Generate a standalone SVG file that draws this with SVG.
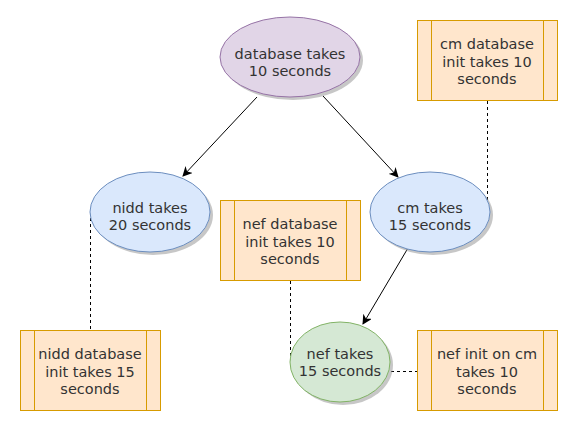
<svg xmlns="http://www.w3.org/2000/svg" width="578" height="431" viewBox="0 0 578 431">
<defs>
<marker id="arr" viewBox="0 0 10 10" refX="9" refY="5" markerWidth="10" markerHeight="10" markerUnits="userSpaceOnUse" orient="auto">
<path d="M0,0 L10,5 L0,10 L3,5 Z" fill="#000"/>
</marker>
</defs>
<style>
text{font-family:"DejaVu Sans",Verdana,sans-serif;font-size:14.5px;fill:#333;text-anchor:middle}
.shadow{fill:#999;opacity:0.55}
.purple{fill:#e1d5e7;stroke:#9673a6;stroke-width:1}
.blue{fill:#dae8fc;stroke:#6c8ebf;stroke-width:1}
.green{fill:#d5e8d4;stroke:#82b366;stroke-width:1}
.proc{fill:#ffe6cc;stroke:#d79b00;stroke-width:1}
.edge{fill:none;stroke:#000;stroke-width:1}
.dash{fill:none;stroke:#000;stroke-width:1;stroke-dasharray:3 3}
</style>
<rect width="578" height="431" fill="#fff"/>
<g id="connectors">
<line class="edge" x1="257" y1="97" x2="183" y2="176" marker-end="url(#arr)"/>
<line class="edge" x1="323" y1="96" x2="398" y2="177" marker-end="url(#arr)"/>
<line class="edge" x1="408" y1="248" x2="363" y2="324" marker-end="url(#arr)"/>
<line class="dash" x1="487.5" y1="101" x2="487.5" y2="200"/>
<line class="dash" x1="90.5" y1="212" x2="90.5" y2="330"/>
<line class="dash" x1="290.5" y1="281" x2="290.5" y2="362"/>
<line class="dash" x1="391" y1="371.5" x2="417" y2="371.5"/>
</g>
<g id="database">
<ellipse class="shadow" cx="293" cy="60" rx="70" ry="40"/>
<ellipse class="purple" cx="290" cy="57" rx="70" ry="40"/>
<text x="290" y="59">database takes</text>
<text x="290" y="76">10 seconds</text>
</g>
<g id="cmdb">
<rect class="proc" x="417.5" y="20.5" width="140" height="80"/>
<line class="proc" x1="431.5" y1="20.5" x2="431.5" y2="100.5"/>
<line class="proc" x1="543.5" y1="20.5" x2="543.5" y2="100.5"/>
<text x="487" y="49">cm database</text>
<text x="487" y="66.5">init takes 10</text>
<text x="487" y="84">seconds</text>
</g>
<g id="nidd">
<ellipse class="shadow" cx="153" cy="215" rx="60" ry="40"/>
<ellipse class="blue" cx="150" cy="212" rx="60" ry="40"/>
<text x="150" y="213">nidd takes</text>
<text x="150" y="230">20 seconds</text>
</g>
<g id="cm">
<ellipse class="shadow" cx="433" cy="215" rx="60" ry="40"/>
<ellipse class="blue" cx="430" cy="212" rx="60" ry="40"/>
<text x="430" y="213">cm takes</text>
<text x="430" y="230">15 seconds</text>
</g>
<g id="nefdb">
<rect class="proc" x="220.5" y="200.5" width="140" height="80"/>
<line class="proc" x1="234.5" y1="200.5" x2="234.5" y2="280.5"/>
<line class="proc" x1="346.5" y1="200.5" x2="346.5" y2="280.5"/>
<text x="290" y="229">nef database</text>
<text x="290" y="246.5">init takes 10</text>
<text x="290" y="264">seconds</text>
</g>
<g id="niddb">
<rect class="proc" x="20.5" y="330.5" width="140" height="80"/>
<line class="proc" x1="34.5" y1="330.5" x2="34.5" y2="410.5"/>
<line class="proc" x1="146.5" y1="330.5" x2="146.5" y2="410.5"/>
<text x="90" y="359">nidd database</text>
<text x="90" y="376.5">init takes 15</text>
<text x="90" y="394">seconds</text>
</g>
<g id="nef">
<ellipse class="shadow" cx="343" cy="365" rx="50" ry="40"/>
<ellipse class="green" cx="340" cy="362" rx="50" ry="40"/>
<text x="340" y="359">nef takes</text>
<text x="340" y="376">15 seconds</text>
</g>
<g id="nefinit">
<rect class="proc" x="417.5" y="330.5" width="140" height="80"/>
<line class="proc" x1="431.5" y1="330.5" x2="431.5" y2="410.5"/>
<line class="proc" x1="543.5" y1="330.5" x2="543.5" y2="410.5"/>
<text x="487" y="359">nef init on cm</text>
<text x="487" y="376.5">takes 10</text>
<text x="487" y="394">seconds</text>
</g>
</svg>
